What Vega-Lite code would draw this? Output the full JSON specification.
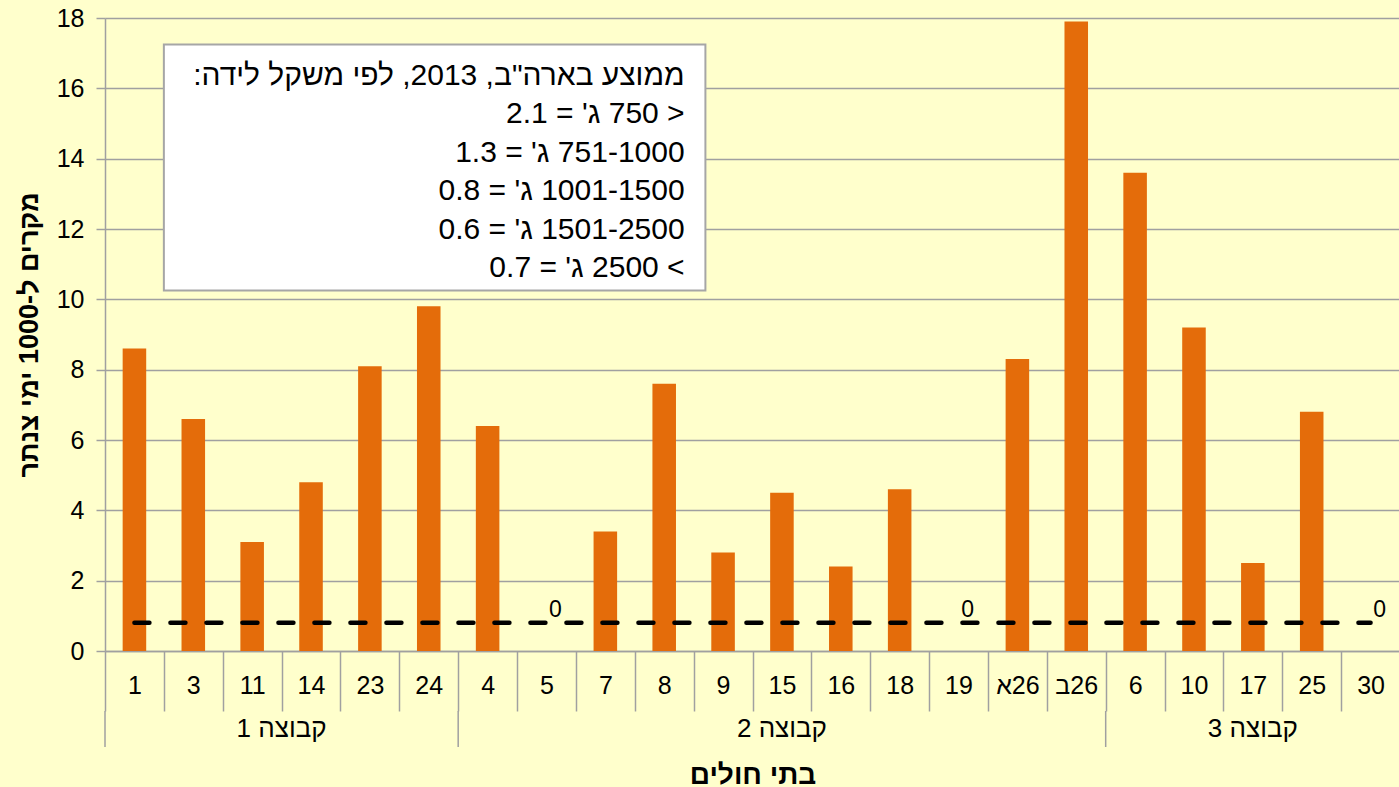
{
  "$schema": "https://vega.github.io/schema/vega-lite/v6.json",
  "background": "#FFFFCC",
  "padding": {"left": 15, "top": 6, "right": 0, "bottom": 0},
  "config": {
    "font": "Liberation Sans",
    "view": {"stroke": null},
    "axis": {
      "labelColor": "#000000",
      "titleColor": "#000000",
      "domainColor": "#A0A0A0",
      "tickColor": "#A0A0A0",
      "gridColor": "#A0A0A0",
      "domainWidth": 1.5,
      "tickWidth": 1.5,
      "gridWidth": 1.5
    }
  },
  "bounds": "flush",
  "spacing": 60,
  "resolve": {"scale": {"x": "shared"}, "axis": {"x": "independent"}},
  "data": {
    "values": [
      {"hospital": "1", "group": "קבוצה 1", "rate": 8.6, "us_avg": 0.8},
      {"hospital": "3", "group": "קבוצה 1", "rate": 6.6, "us_avg": 0.8},
      {"hospital": "11", "group": "קבוצה 1", "rate": 3.1, "us_avg": 0.8},
      {"hospital": "14", "group": "קבוצה 1", "rate": 4.8, "us_avg": 0.8},
      {"hospital": "23", "group": "קבוצה 1", "rate": 8.1, "us_avg": 0.8},
      {"hospital": "24", "group": "קבוצה 1", "rate": 9.8, "us_avg": 0.8},
      {"hospital": "4", "group": "קבוצה 2", "rate": 6.4, "us_avg": 0.8},
      {"hospital": "5", "group": "קבוצה 2", "rate": 0, "us_avg": 0.8},
      {"hospital": "7", "group": "קבוצה 2", "rate": 3.4, "us_avg": 0.8},
      {"hospital": "8", "group": "קבוצה 2", "rate": 7.6, "us_avg": 0.8},
      {"hospital": "9", "group": "קבוצה 2", "rate": 2.8, "us_avg": 0.8},
      {"hospital": "15", "group": "קבוצה 2", "rate": 4.5, "us_avg": 0.8},
      {"hospital": "16", "group": "קבוצה 2", "rate": 2.4, "us_avg": 0.8},
      {"hospital": "18", "group": "קבוצה 2", "rate": 4.6, "us_avg": 0.8},
      {"hospital": "19", "group": "קבוצה 2", "rate": 0, "us_avg": 0.8},
      {"hospital": "26א", "group": "קבוצה 2", "rate": 8.3, "us_avg": 0.8},
      {"hospital": "26ב", "group": "קבוצה 2", "rate": 17.9, "us_avg": 0.8},
      {"hospital": "6", "group": "קבוצה 3", "rate": 13.6, "us_avg": 0.8},
      {"hospital": "10", "group": "קבוצה 3", "rate": 9.2, "us_avg": 0.8},
      {"hospital": "17", "group": "קבוצה 3", "rate": 2.5, "us_avg": 0.8},
      {"hospital": "25", "group": "קבוצה 3", "rate": 6.8, "us_avg": 0.8},
      {"hospital": "30", "group": "קבוצה 3", "rate": 0, "us_avg": 0.8}
    ]
  },
  "vconcat": [
    {
      "width": 1295,
      "height": 633,
      "encoding": {
        "x": {
          "field": "hospital",
          "type": "nominal",
          "sort": null,
          "title": null,
          "scale": {"paddingInner": 0, "paddingOuter": 0},
          "axis": {
            "title": null,
            "grid": false,
            "tickBand": "extent",
            "tickSize": 60,
            "labelAngle": 0,
            "labelFontSize": 25,
            "labelPadding": -38,
            "labelExpr": "'\u202B' + datum.label + '\u202C'"
          }
        }
      },
      "layer": [
        {
          "mark": {"type": "bar", "color": "#E46C0A", "width": {"band": 0.4}},
          "encoding": {
            "y": {
              "field": "rate",
              "type": "quantitative",
              "title": "מקרים ל-1000 ימי צנתר",
              "scale": {"domain": [0, 18]},
              "axis": {
                "values": [0, 2, 4, 6, 8, 10, 12, 14, 16, 18],
                "grid": true,
                "tickSize": 9,
                "labelFontSize": 25,
                "labelPadding": 12,
                "titleFontSize": 27,
                "titleFontWeight": "bold",
                "titlePadding": 13
              }
            }
          }
        },
        {
          "mark": {"type": "line", "color": "#000000", "strokeWidth": 4.5, "strokeDash": [15, 21], "strokeCap": "round"},
          "encoding": {
            "y": {"field": "us_avg", "type": "quantitative", "title": "מקרים ל-1000 ימי צנתר"}
          }
        },
        {
          "transform": [{"filter": "datum.rate == 0"}],
          "mark": {"type": "text", "fontSize": 23, "dx": 9, "dy": -41, "color": "#000000"},
          "encoding": {
            "y": {"field": "rate", "type": "quantitative", "title": "מקרים ל-1000 ימי צנתר"},
            "text": {"field": "rate", "type": "quantitative"}
          }
        },
        {
          "data": {"values": [{}]},
          "mark": {"type": "rect", "fill": "#FFFFFF", "stroke": "#A6A6A6", "strokeWidth": 2},
          "encoding": {
            "x": {"datum": "3", "bandPosition": 0},
            "x2": {"datum": "9", "bandPosition": 0.2},
            "y": {"datum": 17.25, "title": "מקרים ל-1000 ימי צנתר"},
            "y2": {"datum": 10.25}
          }
        },
        {
          "data": {"values": [{}]},
          "mark": {
            "type": "text",
            "align": "right",
            "baseline": "middle",
            "fontSize": 30,
            "lineHeight": 38.4,
            "dx": -9,
            "color": "#000000",
            "text": [
              "\u202Bממוצע בארה\"ב, 2013, לפי משקל לידה:\u202C",
              "\u202B< 750 ג' = 2.1\u202C",
              "\u202B751-1000 ג' = 1.3\u202C",
              "\u202B1001-1500 ג'  = 0.8\u202C",
              "\u202B1501-2500 ג' = 0.6\u202C",
              "\u202B> 2500 ג' = 0.7\u202C"
            ]
          },
          "encoding": {
            "x": {"datum": "9", "bandPosition": 0},
            "y": {"datum": 16.35, "title": "מקרים ל-1000 ימי צנתר"}
          }
        }
      ]
    },
    {
      "width": 1295,
      "height": 36,
      "layer": [
        {
          "transform": [
            {"window": [{"op": "row_number", "as": "idx"}], "groupby": ["group"]},
            {"filter": "datum.idx == 1"}
          ],
          "mark": {"type": "rule", "color": "#A0A0A0", "strokeWidth": 1.5},
          "encoding": {
            "x": {
              "field": "hospital",
              "type": "nominal",
              "sort": null,
              "bandPosition": 0,
              "title": "בתי חולים",
              "axis": {
                "labels": false,
                "ticks": false,
                "domain": false,
                "grid": false,
                "titleFontSize": 28,
                "titleFontWeight": "bold",
                "titlePadding": 14
              }
            }
          }
        },
        {
          "transform": [{"filter": "datum.hospital == '11'"}],
          "mark": {"type": "text", "fontSize": 26, "color": "#000000"},
          "encoding": {
            "x": {"field": "hospital", "type": "nominal", "sort": null, "bandPosition": 1, "title": "בתי חולים"},
            "text": {"field": "group", "type": "nominal"}
          }
        },
        {
          "transform": [{"filter": "datum.hospital == '15' || datum.hospital == '17'"}],
          "mark": {"type": "text", "fontSize": 26, "color": "#000000"},
          "encoding": {
            "x": {"field": "hospital", "type": "nominal", "sort": null, "title": "בתי חולים"},
            "text": {"field": "group", "type": "nominal"}
          }
        }
      ]
    }
  ]
}
